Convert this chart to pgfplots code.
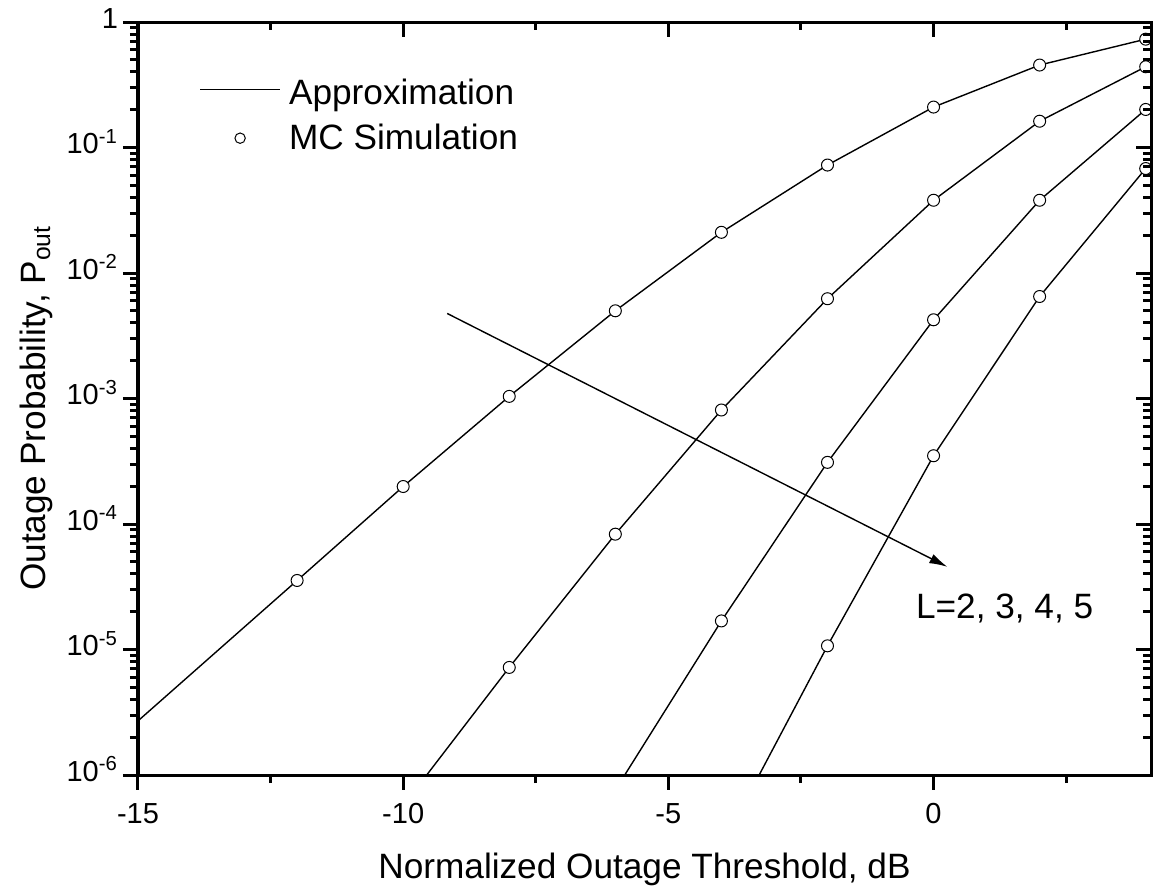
\documentclass[border=0pt]{standalone}
\usepackage{fontspec}
\setmainfont{Liberation Sans}
\usepackage{pgfplots}
\pgfplotsset{compat=1.18}
\usetikzlibrary{arrows.meta}

\pgfplotstableread{
x y
-15 2.7e-6
-12 3.55e-5
-10 1.99e-4
-8 1.04e-3
-6 5.0e-3
-4 0.0211
-2 0.0725
0 0.21
2 0.454
4 0.73
}\Ltwo
\pgfplotstableread{
x y
-10 5.7e-7
-8 7.2e-6
-6 8.3e-5
-4 8.1e-4
-2 6.24e-3
0 0.038
2 0.162
4 0.44
}\Lthree
\pgfplotstableread{
x y
-6 7.6e-7
-4 1.69e-5
-2 3.1e-4
0 4.24e-3
2 0.038
4 0.201
}\Lfour
\pgfplotstableread{
x y
-4 2.7e-7
-2 1.07e-5
0 3.5e-4
2 6.5e-3
4 0.068
}\Lfive

\begin{document}
\begin{tikzpicture}
\begin{axis}[name=ax, ymode=log,
    scale only axis, width=506.5pt, height=376.5pt,
    xmin=-15, xmax=4.1, ymin=1e-6, ymax=1,
    xtick={-15,-10,-5,0}, minor xtick={-12.5,-7.5,-2.5,2.5},
    ytick={1e-6,1e-5,1e-4,1e-3,1e-2,1e-1,1},
    minor ytick={2e-6,3e-6,4e-6,5e-6,6e-6,7e-6,8e-6,9e-6,
      2e-5,3e-5,4e-5,5e-5,6e-5,7e-5,8e-5,9e-5,
      2e-4,3e-4,4e-4,5e-4,6e-4,7e-4,8e-4,9e-4,
      2e-3,3e-3,4e-3,5e-3,6e-3,7e-3,8e-3,9e-3,
      2e-2,3e-2,4e-2,5e-2,6e-2,7e-2,8e-2,9e-2,
      0.2,0.3,0.4,0.5,0.6,0.7,0.8,0.9},
    major tick length=7.5pt, minor tick length=4pt,
    tick style={black, line width=1.5pt},
    axis line style={line width=1.5pt},
    xtick pos=left, ytick pos=left, tick align=outside,
    xticklabels={-15,-10,-5,0},
    yticklabels={10\textsuperscript{-6},10\textsuperscript{-5},10\textsuperscript{-4},10\textsuperscript{-3},10\textsuperscript{-2},10\textsuperscript{-1},1},
    ticklabel style={font=\fontsize{14.5}{17}\selectfont},
    xticklabel style={anchor=base, yshift=-17pt},
    yticklabel style={anchor=base east, yshift=-3pt, xshift=1pt},
    label style={font=\fontsize{17.6}{21}\selectfont},
    xlabel={Normalized Outage Threshold, dB},
    xlabel style={at={(axis description cs:0.5,-0.137)}, anchor=base},
    ylabel={Outage Probability, P\textsubscript{out}},
    ylabel style={at={(axis description cs:-0.0918,0.487)}, anchor=base},
    legend style={draw=none, fill=none, font=\fontsize{17.6}{21}\selectfont,
      at={(axis description cs:0.0543,0.9349)}, anchor=north west,
      row sep=4pt},
    legend cell align=left,
  ]
  \addlegendimage{black, line width=0.7pt, legend image code/.code={\path[draw=none] (0pt,0pt) -- (42.5pt,0pt);
      \draw[black, line width=0.7pt] (0pt,2pt) -- (40pt,2pt);}}
  \addlegendentry{Approximation}
  \addlegendimage{black, legend image code/.code={\path[draw=none] (0pt,0pt) -- (42.5pt,0pt);
      \draw[black, line width=0.5pt, fill=white] (20pt,0pt) circle (2.6pt);}}
  \addlegendentry{MC Simulation}

  \addplot[black, line width=0.7pt, forget plot] table {\Ltwo};
  \addplot[black, line width=0.7pt, forget plot] table {\Lthree};
  \addplot[black, line width=0.7pt, forget plot] table {\Lfour};
  \addplot[black, line width=0.7pt, forget plot] table {\Lfive};

  \addplot[only marks, mark=*, mark size=3pt, mark options={draw=black, fill=white, line width=0.5pt}, forget plot]
    coordinates {(-12,3.55e-5) (-10,1.99e-4) (-8,1.04e-3) (-6,5.0e-3) (-4,0.0211) (-2,0.0725) (0,0.21) (2,0.454) (4,0.73)};
  \addplot[only marks, mark=*, mark size=3pt, mark options={draw=black, fill=white, line width=0.5pt}, forget plot]
    coordinates {(-8,7.2e-6) (-6,8.3e-5) (-4,8.1e-4) (-2,6.24e-3) (0,0.038) (2,0.162) (4,0.44)};
  \addplot[only marks, mark=*, mark size=3pt, mark options={draw=black, fill=white, line width=0.5pt}, forget plot]
    coordinates {(-4,1.69e-5) (-2,3.1e-4) (0,4.24e-3) (2,0.038) (4,0.201)};
  \addplot[only marks, mark=*, mark size=3pt, mark options={draw=black, fill=white, line width=0.5pt}, forget plot]
    coordinates {(-2,1.07e-5) (0,3.5e-4) (2,6.5e-3) (4,0.068)};

  \draw[black, line width=0.7pt, -{Latex[length=9pt, width=5pt]}]
    (axis cs:-9.17,4.76e-3) -- (axis cs:0.26,4.56e-5);
  \node[anchor=base, font=\fontsize{17.6}{21}\selectfont] at (axis cs:1.34,1.76e-5) {L=2, 3, 4, 5};
\end{axis}
\begin{axis}[ymode=log,
    scale only axis, width=506.5pt, height=376.5pt,
    xmin=-15, xmax=4.1, ymin=1e-6, ymax=1,
    xtick={-15,-10,-5,0}, minor xtick={-12.5,-7.5,-2.5,2.5},
    ytick={1e-6,1e-5,1e-4,1e-3,1e-2,1e-1,1},
    minor ytick={2e-6,3e-6,4e-6,5e-6,6e-6,7e-6,8e-6,9e-6,
      2e-5,3e-5,4e-5,5e-5,6e-5,7e-5,8e-5,9e-5,
      2e-4,3e-4,4e-4,5e-4,6e-4,7e-4,8e-4,9e-4,
      2e-3,3e-3,4e-3,5e-3,6e-3,7e-3,8e-3,9e-3,
      2e-2,3e-2,4e-2,5e-2,6e-2,7e-2,8e-2,9e-2,
      0.2,0.3,0.4,0.5,0.6,0.7,0.8,0.9},
    major tick length=7.5pt, minor tick length=4pt,
    tick style={black, line width=1.5pt},
    axis line style={line width=1.5pt},
    xtick pos=right, ytick pos=right, tick align=inside,
    xticklabels={}, yticklabels={},
  ]
\end{axis}
\pgfresetboundingbox
\path ([xshift=-69pt, yshift=-57.5pt]ax.south west) rectangle ([xshift=1.5pt, yshift=11pt]ax.north east);
\end{tikzpicture}
\end{document}
